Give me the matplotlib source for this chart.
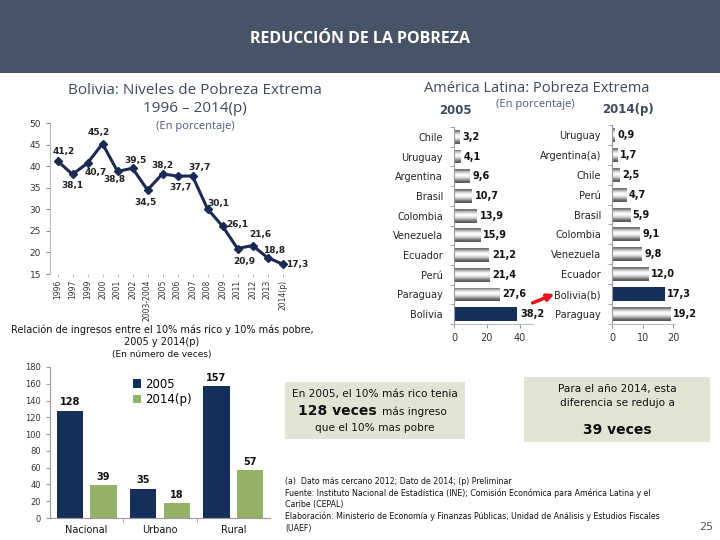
import numpy as np
import matplotlib
matplotlib.use("Agg")
import matplotlib.pyplot as plt
from matplotlib.patches import Rectangle, FancyArrowPatch

# --- data ---
years = ['1996', '1997', '1999', '2000', '2001', '2002', '2003-2004', '2005', '2006',
         '2007', '2008', '2009', '2011', '2012', '2013', '2014(p)']
pobreza_bol = [41.2, 38.1, 40.7, 45.2, 38.8, 39.5, 34.5, 38.2, 37.7, 37.7, 30.1, 26.1,
               20.9, 21.6, 18.8, 17.3]
# label offsets (pixels) for the point labels
lbl_off = [(6, 9), (0, -11), (8, -9), (-4, 11), (-3, -8), (3, 8), (-2, -13), (0, 8),
           (3, -11), (7, 9), (11, 5), (15, 2), (7, -13), (8, 11), (7, 7), (15, 0)]

paises_2005 = ['Chile', 'Uruguay', 'Argentina', 'Brasil', 'Colombia', 'Venezuela',
               'Ecuador', 'Perú', 'Paraguay', 'Bolivia']
valores_2005 = [3.2, 4.1, 9.6, 10.7, 13.9, 15.9, 21.2, 21.4, 27.6, 38.2]
paises_2014 = ['Uruguay', 'Argentina(a)', 'Chile', 'Perú', 'Brasil', 'Colombia',
               'Venezuela', 'Ecuador', 'Bolivia(b)', 'Paraguay']
valores_2014 = [0.9, 1.7, 2.5, 4.7, 5.9, 9.1, 9.8, 12.0, 17.3, 19.2]

zonas = ['Nacional', 'Urbano', 'Rural']
ratio_2005 = [128, 35, 157]
ratio_2014 = [39, 18, 57]

NAVY = '#14305a'
HEAD = '#475467'
TITLE_C = '#3d4a5e'
W, H = 720, 540

fig = plt.figure(figsize=(7.2, 5.4), dpi=100)
fig.patch.set_facecolor('white')


def ax_px(x0, y0, x1, y1):
    return fig.add_axes([x0 / W, 1 - y1 / H, (x1 - x0) / W, (y1 - y0) / H])


def ftext(x, y, s, **kw):
    fig.text(x / W, 1 - y / H, s, **kw)


# header
fig.patches.append(Rectangle((0, 1 - 73 / H), 1, 73 / H, transform=fig.transFigure,
                             facecolor=HEAD, edgecolor='none', zorder=0))
ftext(360, 39, 'REDUCCIÓN DE LA POBREZA', ha='center', va='center', color='white',
      fontsize=11.5, fontweight='bold', family='Open Sans')

# ---------- line chart ----------
ftext(195, 91, 'Bolivia: Niveles de Pobreza Extrema', ha='center', va='center',
      fontsize=11, color=TITLE_C, family='Open Sans')
ftext(195, 108, '1996 – 2014(p)', ha='center', va='center', fontsize=11,
      color=TITLE_C, family='Open Sans')
ftext(195, 127, '(En porcentaje)', ha='center', va='center', fontsize=8,
      color='#4a5a78', family='Open Sans')

ax1 = ax_px(50, 123, 290, 274)
x = np.arange(len(years))
ax1.plot(x, pobreza_bol, color='#1b2a52', lw=2.2, marker='D', ms=4.5,
         markerfacecolor='#1b2a52', zorder=3)
for xi, v, (dx, dy) in zip(x, pobreza_bol, lbl_off):
    ax1.annotate(f'{v:.1f}'.replace('.', ','), (xi, v), xytext=(dx, dy),
                 textcoords='offset pixels', ha='center', va='center',
                 fontsize=6.5, fontweight='bold', color='#222222')
ax1.set_xlim(-0.5, len(years) - 0.5)
ax1.set_ylim(15, 50)
ax1.set_yticks(range(15, 55, 5))
ax1.set_xticks(x)
ax1.set_xticklabels(years, rotation=90, fontsize=5.5, color='#333333')
ax1.tick_params(axis='y', labelsize=6.5, length=3, color='#888888', labelcolor='#333333')
ax1.tick_params(axis='x', length=2, color='#bbbbbb', pad=2)
for s in ['top', 'right', 'bottom']:
    ax1.spines[s].set_visible(False)
ax1.spines['left'].set_color('#bbbbbb')

# ---------- horizontal bar charts ----------
ftext(537, 88, 'América Latina: Pobreza Extrema', ha='center', va='center',
      fontsize=10.5, color=TITLE_C, family='Open Sans')
ftext(455, 110, '2005', ha='center', va='center', fontsize=8.5, fontweight='bold',
      color=TITLE_C)
ftext(535, 104, '(En porcentaje)', ha='center', va='center', fontsize=8,
      color='#4a5a78', family='Open Sans')
ftext(628, 110, '2014(p)', ha='center', va='center', fontsize=8.5, fontweight='bold',
      color=TITLE_C)

grad = np.array([0.45, 0.7, 0.92, 1.0, 0.92, 0.75, 0.5, 0.35]).reshape(-1, 1)


def gray_barh(ax, labels, vals, hi, xmax):
    y = np.arange(len(labels))
    bars = ax.barh(y, vals, height=0.7, color='none', edgecolor='none')
    for i, b in enumerate(bars):
        if labels[i].startswith('Bolivia'):
            b.set_facecolor(NAVY)
        else:
            x0, y0 = b.get_x(), b.get_y()
            im = ax.imshow(grad, cmap='gray', vmin=0, vmax=1, aspect='auto',
                           extent=[x0, x0 + b.get_width(), y0 + b.get_height(), y0],
                           zorder=2)
            im.set_clip_path(b)
        ax.text(vals[i] + xmax * 0.04, y[i], f'{vals[i]:.1f}'.replace('.', ','),
                va='center', ha='left', fontsize=7, fontweight='bold', color='#111111')
    ax.set_yticks(y)
    ax.set_yticklabels(labels, fontsize=7, color='#222222')
    ax.set_yticks(np.arange(-0.5, len(labels), 1), minor=True)
    ax.tick_params(axis='y', which='major', length=0, pad=8)
    ax.tick_params(axis='y', which='minor', length=3, color='#999999')
    ax.set_xticks(hi)
    ax.tick_params(axis='x', labelsize=7, length=3, color='#999999', labelcolor='#333333')
    ax.set_xlim(0, xmax)
    ax.set_ylim(len(labels) - 0.5, -0.5)
    for s in ['top', 'right']:
        ax.spines[s].set_visible(False)
    ax.spines['left'].set_color('#999999')
    ax.spines['bottom'].set_color('#bbbbbb')


ax2 = ax_px(454, 127, 533, 324)
gray_barh(ax2, paises_2005, valores_2005, [0, 20, 40], 48)
ax3 = ax_px(612, 125, 675, 324)
gray_barh(ax3, paises_2014, valores_2014, [0, 10, 20], 20.6)

fig.patches.append(FancyArrowPatch((530 / W, 1 - 304 / H), (557 / W, 1 - 293 / H),
                                   transform=fig.transFigure, arrowstyle='-|>',
                                   mutation_scale=10, lw=2.5, color='#e8141c'))

# ---------- vertical bar chart ----------
ftext(162, 330, 'Relación de ingresos entre el 10% más rico y 10% más pobre,',
      ha='center', va='center', fontsize=7, color='#111111')
ftext(162, 342, '2005 y 2014(p)', ha='center', va='center', fontsize=7, color='#111111')
ftext(162, 354, '(En número de veces)', ha='center', va='center', fontsize=6.5,
      color='#111111')

ax4 = ax_px(50, 367, 270, 518)
xz = np.arange(len(zonas))
b1 = ax4.bar(xz - 0.23, ratio_2005, width=0.36, color=NAVY, label='2005')
b2 = ax4.bar(xz + 0.23, ratio_2014, width=0.36, color='#93b267', label='2014(p)')
for bars, vals in [(b1, ratio_2005), (b2, ratio_2014)]:
    for b, v in zip(bars, vals):
        ax4.text(b.get_x() + b.get_width() / 2, v + 4, str(v), ha='center',
                 va='bottom', fontsize=7, fontweight='bold', color='#111111')
ax4.set_xlim(-0.5, 2.5)
ax4.set_ylim(0, 180)
ax4.set_yticks(range(0, 181, 20))
ax4.set_xticks(xz)
ax4.set_xticklabels(zonas, fontsize=7, color='#111111')
ax4.set_xticks([0.5, 1.5], minor=True)
ax4.tick_params(axis='x', which='major', length=0, pad=5)
ax4.tick_params(axis='x', which='minor', length=3, color='#999999')
ax4.tick_params(axis='y', labelsize=6, length=3, color='#999999', labelcolor='#333333')
for s in ['top', 'right']:
    ax4.spines[s].set_visible(False)
ax4.spines['left'].set_color('#999999')
ax4.spines['bottom'].set_color('#999999')
ax4.legend(loc='upper left', bbox_to_anchor=(0.33, 1.0), frameon=False, fontsize=8.5,
           handlelength=0.7, handleheight=0.7, handletextpad=0.3, labelspacing=0.2)

# ---------- text boxes ----------
BOX = '#e3e3d3'
fig.patches.append(Rectangle((285 / W, 1 - 439 / H), 180 / W, 57 / H,
                             transform=fig.transFigure, facecolor=BOX, edgecolor='none'))
ftext(375, 394, 'En 2005, el 10% más rico tenia', ha='center', va='center',
      fontsize=7.6, color='#111111')
ftext(377, 411, '128 veces', ha='right', va='center', fontsize=10,
      fontweight='bold', color='#111111')
ftext(382, 412, 'más ingreso', ha='left', va='center', fontsize=7.6, color='#111111')
ftext(375, 428, 'que el 10% mas pobre', ha='center', va='center', fontsize=7.6,
      color='#111111')

fig.patches.append(Rectangle((524 / W, 1 - 442 / H), 186 / W, 65 / H,
                             transform=fig.transFigure, facecolor=BOX, edgecolor='none'))
ftext(617, 389, 'Para el año 2014, esta', ha='center', va='center', fontsize=7.6,
      color='#111111')
ftext(617, 403, 'diferencia se redujo a', ha='center', va='center', fontsize=7.6,
      color='#111111')
ftext(617, 430, '39 veces', ha='center', va='center', fontsize=10, fontweight='bold',
      color='#111111')

# ---------- notes ----------
notas = ['(a)  Dato más cercano 2012; Dato de 2014; (p) Preliminar',
         'Fuente: Instituto Nacional de Estadística (INE); Comisión Económica para América Latina y el',
         'Caribe (CEPAL)',
         'Elaboración: Ministerio de Economía y Finanzas Públicas, Unidad de Análisis y Estudios Fiscales',
         '(UAEF)']
for i, t in enumerate(notas):
    ftext(285, 482 + i * 11.5, t, ha='left', va='center', fontsize=5.7, color='#111111')
ftext(706, 527, '25', ha='center', va='center', fontsize=8, color='#555555')

fig.savefig('out.png', dpi=100)
